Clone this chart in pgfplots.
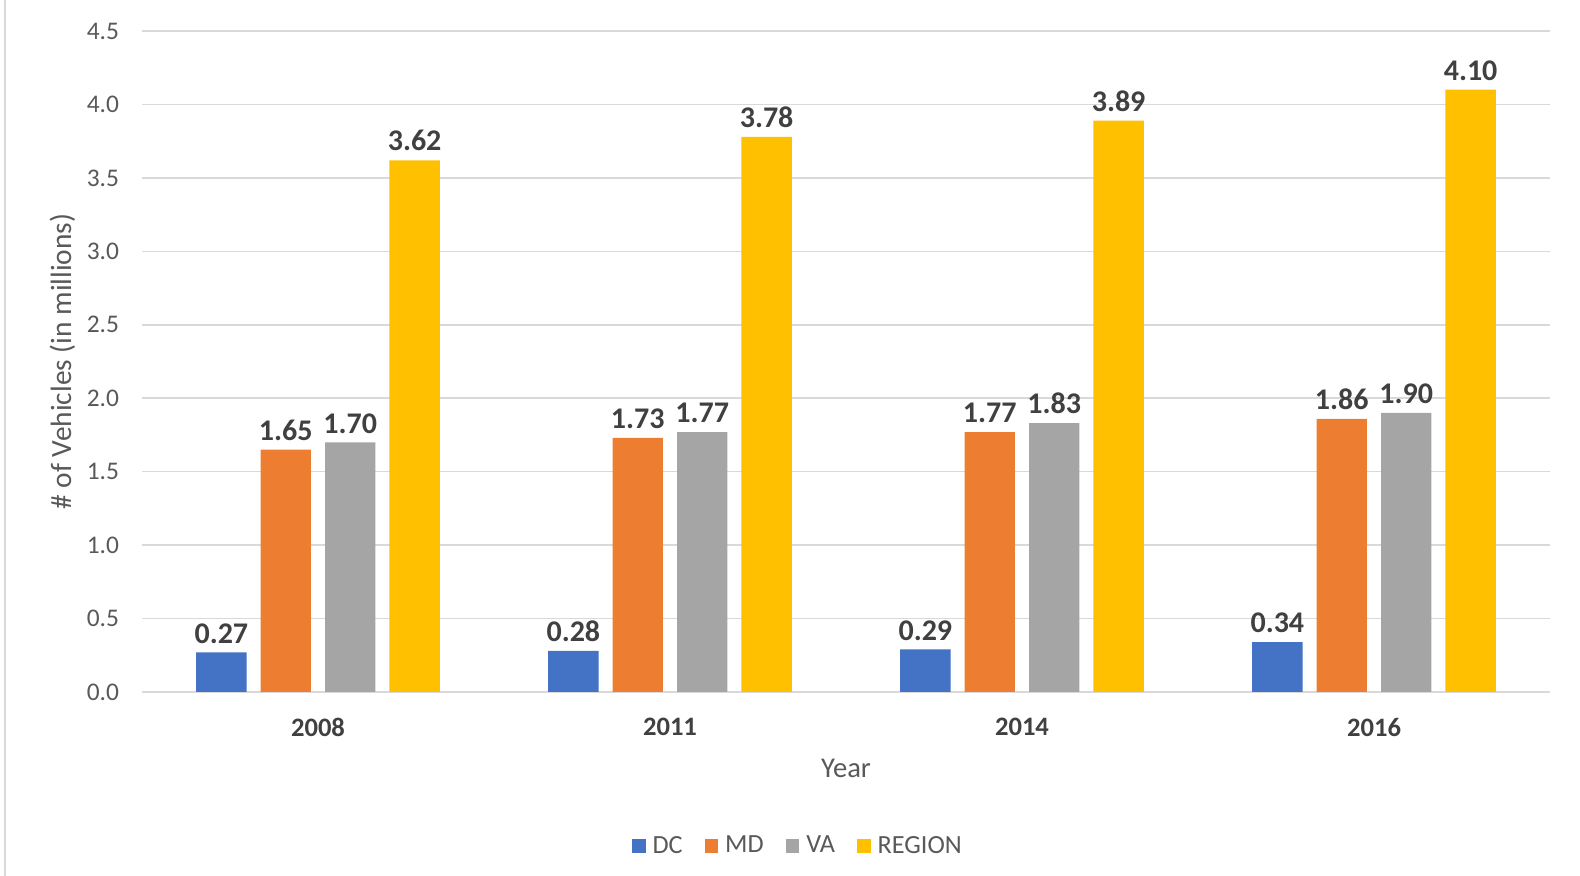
\documentclass[border=0pt]{standalone}
\usepackage{pgfplots}
\pgfplotsset{compat=1.18}
\usepackage{fontspec}
\setmainfont{Carlito}
\definecolor{cDC}{HTML}{4472C4}
\definecolor{cMD}{HTML}{ED7D31}
\definecolor{cVA}{HTML}{A5A5A5}
\definecolor{cRG}{HTML}{FFC000}
\definecolor{cgrid}{HTML}{D9D9D9}
\definecolor{ctext}{HTML}{595959}
\definecolor{clab}{HTML}{404040}
\begin{document}
\begin{tikzpicture}
\path[use as bounding box] (0bp,0bp) rectangle (790bp,438bp);
\draw[color=cgrid, line width=1bp] (2.25bp,0bp) -- (2.25bp,438bp);
\begin{axis}[
  at={(71bp,92bp)}, anchor=south west, scale only axis,
  width=704bp, height=330.5bp,
  ybar, bar width=0.143,
  xmin=-0.5, xmax=3.5, ymin=0, ymax=4.5,
  xtick={0,1,2,3}, xticklabels={2008,2011,2014,2016},
  ytick={0,0.5,1,1.5,2,2.5,3,3.5,4,4.5},
  yticklabel style={/pgf/number format/fixed,/pgf/number format/precision=1,/pgf/number format/fixed zerofill, font=\fontsize{12.7bp}{15bp}\selectfont, color=ctext, xshift=-8bp},
  xticklabel style={font=\bfseries\fontsize{13.3bp}{15bp}\selectfont, color=clab, yshift=-9.5bp},
  /pgf/number format/assume math mode=true,
  major tick length=0pt,
  axis line style={draw=none},
  ymajorgrids, grid style={color=cgrid, line width=0.8bp},
  ylabel={\# of Vehicles (in millions)},
  ylabel style={at={(axis description cs:-0.0565,0.5)}, anchor=center, font=\fontsize{14.7bp}{17bp}\selectfont, color=ctext},
  xlabel={Year},
  xlabel style={at={(axis description cs:0.5,-0.115)}, anchor=center, font=\fontsize{14.3bp}{17bp}\selectfont, color=ctext},
  nodes near coords,
  nodes near coords style={font=\bfseries\fontsize{15bp}{17bp}\selectfont, color=clab, yshift=1bp, /pgf/number format/fixed,/pgf/number format/precision=2,/pgf/number format/fixed zerofill},
  legend style={at={(axis description cs:0.4665,-0.233)}, anchor=center, draw=none, fill=none, legend columns=4, font=\fontsize{13.1bp}{15bp}\selectfont, text=ctext, /tikz/every even column/.append style={column sep=9bp}, /tikz/every odd column/.append style={column sep=1.5bp}},
  legend image code/.code={\fill[#1] (0bp,-3.4bp) rectangle (6.8bp,3.4bp);},
]
\addplot[fill=cDC, draw=none, bar shift=-0.2745] coordinates {(0,0.27) (1,0.28) (2,0.29) (3,0.34)};
\addplot[fill=cMD, draw=none, bar shift=-0.0915] coordinates {(0,1.65) (1,1.73) (2,1.77) (3,1.86)};
\addplot[fill=cVA, draw=none, bar shift=0.0915] coordinates {(0,1.70) (1,1.77) (2,1.83) (3,1.90)};
\addplot[fill=cRG, draw=none, bar shift=0.2745] coordinates {(0,3.62) (1,3.78) (2,3.89) (3,4.10)};
\legend{DC,MD,VA,REGION}
\end{axis}
\end{tikzpicture}
\end{document}
